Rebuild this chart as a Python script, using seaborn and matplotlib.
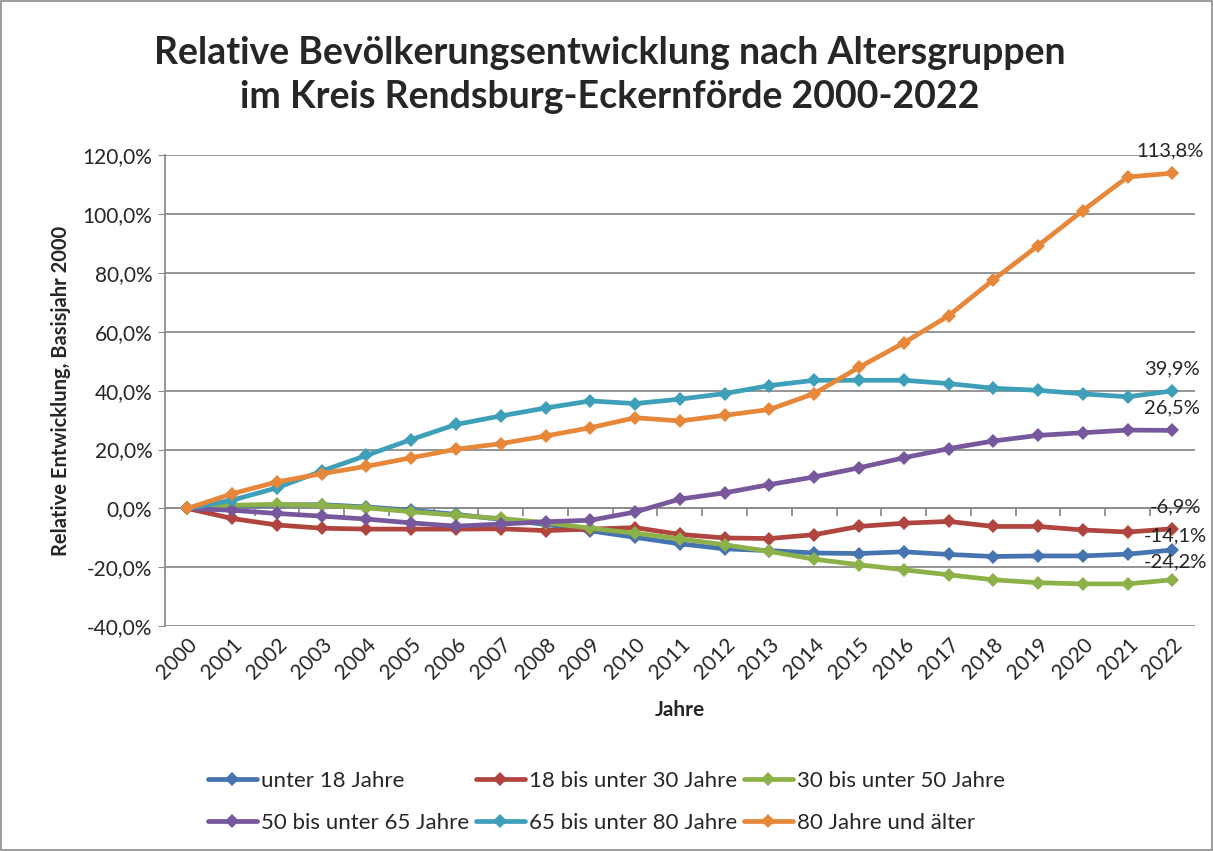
import numpy as np
import pandas as pd
import matplotlib.pyplot as plt
import seaborn as sns
from matplotlib.patches import Rectangle

years = list(range(2000, 2023))
unter_18 = [0, 0.8, 1.2, 1.3, 0.5, -0.6, -2.0, -3.7, -5.4, -7.6, -9.8, -12.0, -13.7,
            -14.3, -15.1, -15.3, -14.7, -15.6, -16.3, -16.1, -16.1, -15.5, -14.1]
b18_30 = [0, -3.4, -5.6, -6.7, -7.0, -7.0, -7.0, -6.9, -7.5, -7.0, -6.5, -8.8, -10.0,
          -10.2, -8.9, -6.1, -5.0, -4.4, -6.1, -6.1, -7.3, -8.0, -6.9]
b30_50 = [0, 1.1, 1.4, 1.1, 0.2, -1.1, -2.3, -3.4, -4.8, -6.7, -8.4, -10.3, -12.3,
          -14.6, -17.2, -19.1, -20.8, -22.5, -24.2, -25.2, -25.6, -25.6, -24.2]
b50_65 = [0, -0.6, -1.7, -2.6, -3.6, -4.9, -6.0, -5.3, -4.5, -4.0, -1.2, 3.2, 5.3,
          8.1, 10.7, 13.8, 17.2, 20.3, 22.9, 24.8, 25.7, 26.6, 26.5]
b65_80 = [0, 2.8, 7.0, 12.7, 18.0, 23.4, 28.5, 31.4, 34.1, 36.5, 35.6, 37.1, 39.0,
          41.7, 43.5, 43.5, 43.5, 42.4, 40.8, 40.1, 38.9, 37.9, 39.9]
ab_80 = [0, 5.0, 9.0, 11.8, 14.3, 17.2, 20.1, 22.0, 24.6, 27.4, 30.8, 29.7, 31.6,
         33.6, 39.0, 47.9, 56.2, 65.4, 77.6, 89.2, 101.1, 112.5, 113.8]

groups = ["unter 18 Jahre", "18 bis unter 30 Jahre", "30 bis unter 50 Jahre",
          "50 bis unter 65 Jahre", "65 bis unter 80 Jahre", "80 Jahre und älter"]
series = [unter_18, b18_30, b30_50, b50_65, b65_80, ab_80]
colors = ["#4574B0", "#B0443F", "#8CB148", "#77589C", "#3E9FB8", "#E6873A"]

df = pd.DataFrame({"Jahr": years * 6,
                   "Gruppe": np.repeat(groups, len(years)),
                   "Wert": np.concatenate(series)})

sns.set_style("white")
plt.rcParams["font.family"] = ["Lato", "DejaVu Sans"]

fig = plt.figure(figsize=(12.13, 8.51), dpi=100)
ax = fig.add_axes([0.136, 0.264, 0.849, 0.554])

sns.lineplot(data=df, x="Jahr", y="Wert", hue="Gruppe", palette=colors,
             hue_order=groups, marker="D", markersize=7, markeredgewidth=0,
             linewidth=3.4, ax=ax, legend=True)

ax.set_xlim(1999.5, 2022.5)
ax.set_ylim(-40, 120)
ax.set_yticks(range(-40, 121, 20))
ax.set_yticklabels([f"{v:.1f}%".replace(".", ",") for v in range(-40, 121, 20)], fontsize=15)
ax.yaxis.grid(True, color="#8c8c8c", linewidth=1.3)
ax.set_xticks(years)
ax.set_xticklabels([str(y) for y in years], rotation=45, ha="right",
                   rotation_mode="anchor", fontsize=15)
ax.tick_params(axis="x", length=0, pad=6)
ax.tick_params(axis="y", length=5, color="#8c8c8c", left=True, pad=4)
for s in ["top", "right", "bottom"]:
    ax.spines[s].set_visible(False)
ax.spines["left"].set_color("#8c8c8c")
ax.spines["left"].set_linewidth(1.3)

# category axis crossing at 0 with tick marks between years
zero = ax.secondary_xaxis(0.25)
zero.set_xticks([y + 0.5 for y in years[:-1]])
zero.set_xticklabels([])
zero.tick_params(length=6, color="#8c8c8c", width=1.3)
zero.spines["bottom"].set_color("#8c8c8c")
zero.spines["bottom"].set_linewidth(1.3)

ax.set_xlabel("Jahre", fontsize=15, fontweight="bold", labelpad=12)
ax.set_ylabel("Relative Entwicklung, Basisjahr 2000", fontsize=14.5, fontweight="bold", labelpad=8)

# end labels
offsets = [(2, 4), (2, 10), (2, 7), (0, 10), (0, 10), (-2, 10)]
for vals, off in zip(series, offsets):
    ax.annotate(f"{vals[-1]:.1f}%".replace(".", ","), (years[-1], vals[-1]),
                xytext=off, textcoords="offset points", ha="center", va="bottom",
                fontsize=14.5)

fig.text(0.503, 0.912, "Relative Bevölkerungsentwicklung nach Altersgruppen\nim Kreis Rendsburg-Eckernförde 2000-2022",
         ha="center", va="center", fontsize=27, fontweight="bold", linespacing=1.35)

handles, labels = ax.get_legend_handles_labels()
ax.get_legend().remove()
order = [0, 3, 1, 4, 2, 5]
fig.legend([handles[i] for i in order], [labels[i] for i in order],
           loc="center", bbox_to_anchor=(0.5, 0.058), ncol=3, frameon=False,
           fontsize=16, handlelength=2.2, handletextpad=0.2, columnspacing=0.3,
           labelspacing=1.0)

fig.add_artist(Rectangle((0.001, 0.001), 0.998, 0.998, transform=fig.transFigure,
                         fill=False, edgecolor="#8c8c8c", linewidth=1.2))

fig.savefig("out.png", dpi=100)
